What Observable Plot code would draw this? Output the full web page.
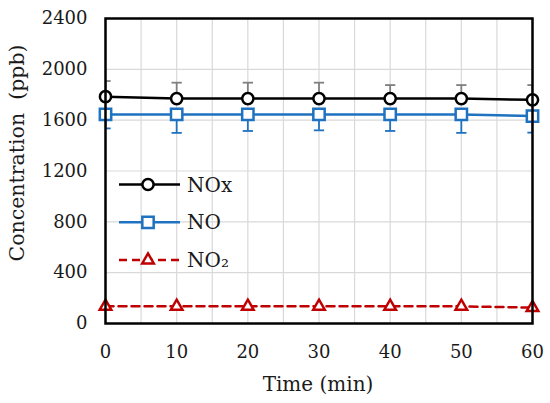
<!DOCTYPE html>
<html><head><meta charset="utf-8">
<script src="https://cdn.jsdelivr.net/npm/d3@7"></script>
<script src="https://cdn.jsdelivr.net/npm/@observablehq/plot@0.6"></script>
<style>
body{margin:0;background:#fff;}
#wrap{position:relative;width:550px;height:403px;font-family:"DejaVu Serif",serif;}
#legend{position:absolute;left:0;top:0;}
</style></head>
<body><div id="wrap"></div>
<script>
const times = [0, 10, 20, 30, 40, 50, 60];
const noxValues = [1785, 1770, 1770, 1770, 1770, 1770, 1760];
const noxErr = [123, 125, 125, 125, 106, 106, 116];
const noValues = [1645, 1645, 1645, 1645, 1645, 1645, 1632];
const noErr = [110, 145, 130, 125, 130, 145, 130];
const no2Values = [135, 135, 135, 135, 135, 135, 125];
const yTicks = [0, 400, 800, 1200, 1600, 2000, 2400];
const xTicks = [0, 10, 20, 30, 40, 50, 60];
const seriesNames = ["NOx", "NO", "NO\u2082"];

const nox = times.map((t, i) => ({t, v: noxValues[i], e: noxErr[i]}));
const no = times.map((t, i) => ({t, v: noValues[i], e: noErr[i]}));
const no2 = times.map((t, i) => ({t, v: no2Values[i]}));

const capSymbol = {draw(ctx, size) { const w = Math.sqrt(size) / 2; ctx.moveTo(-w, 0); ctx.lineTo(w, 0); }};

const BLACK = "#000", BLUE = "#1f72c0", RED = "#c00000", GRAY = "#808080";

const chart = Plot.plot({
  width: 550, height: 403,
  marginLeft: 105, marginRight: 18, marginTop: 18, marginBottom: 80,
  style: {fontFamily: "DejaVu Serif, serif", fontSize: "18px", color: "#1a1a1a"},
  x: {domain: [0, 60], ticks: xTicks, tickSize: 0, tickPadding: 22, label: null, tickFormat: d => String(d)},
  y: {domain: [0, 2400], ticks: yTicks, tickSize: 0, tickPadding: 18, label: null, tickFormat: d => String(d)},
  marks: [
    Plot.gridX(d3.range(0, 61, 5), {stroke: "#d9d9d9", strokeOpacity: 1, strokeWidth: 1.2}),
    Plot.gridY(d3.range(0, 2401, 400), {stroke: "#d9d9d9", strokeOpacity: 1, strokeWidth: 1.2}),
    // error bars
    Plot.ruleX(nox, {x: "t", y1: "v", y2: d => d.v + d.e, stroke: GRAY, strokeWidth: 1.8, clip: true}),
    Plot.dot(nox, {x: "t", y: d => d.v + d.e, symbol: capSymbol, r: 5.8, stroke: GRAY, strokeWidth: 1.8, clip: true}),
    Plot.ruleX(no, {x: "t", y1: "v", y2: d => d.v - d.e, stroke: BLUE, strokeWidth: 1.8, clip: true}),
    Plot.dot(no, {x: "t", y: d => d.v - d.e, symbol: capSymbol, r: 5.8, stroke: BLUE, strokeWidth: 1.8, clip: true}),
    // lines
    Plot.line(no2, {x: "t", y: "v", stroke: RED, strokeWidth: 2.5, strokeDasharray: "8,5"}),
    Plot.line(no, {x: "t", y: "v", stroke: BLUE, strokeWidth: 2.5}),
    Plot.line(nox, {x: "t", y: "v", stroke: BLACK, strokeWidth: 2.5}),
    Plot.dot(no2, {x: "t", y: "v", symbol: "triangle", r: 4.3, stroke: RED, fill: "#fff", strokeWidth: 2.5}),
    Plot.dot(no, {x: "t", y: "v", symbol: "square", r: 6.4, stroke: BLUE, fill: "#fff", strokeWidth: 2.5}),
    Plot.dot(nox, {x: "t", y: "v", symbol: "circle", r: 5.6, stroke: BLACK, fill: "#fff", strokeWidth: 2.5}),
    Plot.frame({stroke: BLACK, strokeWidth: 2.5})
  ]
});
document.getElementById("wrap").appendChild(chart);

const svg = d3.select(chart);
svg.append("text").attr("x", 318).attr("y", 391).attr("text-anchor", "middle")
  .attr("font-size", 20).attr("fill", "#1a1a1a").text("Time (min)");
svg.append("text").attr("transform", "translate(24,153) rotate(-90)").attr("text-anchor", "middle")
  .attr("font-size", 20.5).attr("fill", "#1a1a1a").style("white-space", "pre").text("Concentration  (ppb)");

// legend overlay
const legendItems = [
  {name: seriesNames[0], color: BLACK, symbol: d3.symbolCircle, size: Math.PI * 5.6 * 5.6, dash: null},
  {name: seriesNames[1], color: BLUE, symbol: d3.symbolSquare, size: Math.PI * 6.4 * 6.4, dash: null},
  {name: seriesNames[2], color: RED, symbol: d3.symbolTriangle, size: Math.PI * 4.3 * 4.3, dash: "8,5"}
];
const leg = d3.select("#wrap").append("svg").attr("id", "legend").attr("width", 550).attr("height", 403)
  .style("font-family", "DejaVu Serif, serif");
legendItems.forEach((it, i) => {
  const y = 184.5 + i * 37.8;
  leg.append("line").attr("x1", 119).attr("x2", 180).attr("y1", y).attr("y2", y)
    .attr("stroke", it.color).attr("stroke-width", 2.5).attr("stroke-dasharray", it.dash);
  leg.append("path").attr("d", d3.symbol(it.symbol, it.size)()).attr("transform", `translate(148,${y})`)
    .attr("fill", "#fff").attr("stroke", it.color).attr("stroke-width", 2.5);
  leg.append("text").attr("x", 187).attr("y", y + 7).attr("font-size", 20).attr("fill", "#1a1a1a").text(it.name);
});
</script></body></html>
